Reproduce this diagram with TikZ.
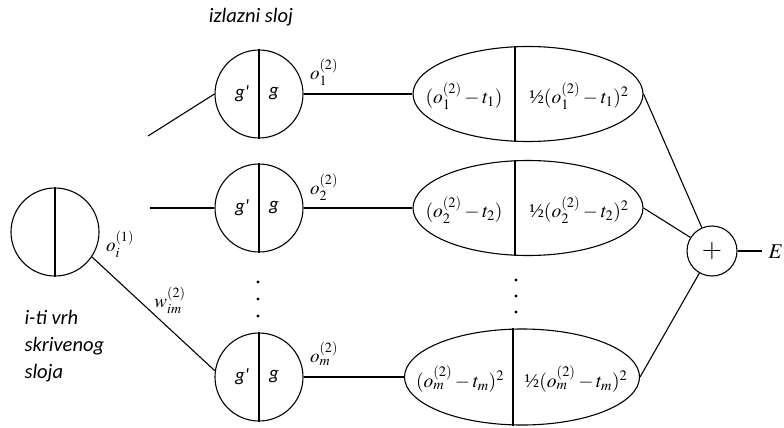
\documentclass[tikz,border=0pt]{standalone}
\usepackage{mathptmx}
\usepackage{fontspec}
\setmainfont{Liberation Serif}
\newfontfamily\carlito{Carlito}
\usetikzlibrary{shapes.geometric}
\begin{document}
\begin{tikzpicture}[x=1pt,y=-1pt,line width=1.1pt,
  neuron/.style={draw,circle,minimum size=88pt,inner sep=0pt},
  errbox/.style={draw,ellipse,minimum width=230pt,minimum height=95pt,inner sep=0pt},
  sumnode/.style={draw,circle,minimum size=50pt,inner sep=0pt,font=\fontsize{26}{28}\selectfont},
  glab/.style={font=\carlito\itshape\fontsize{19}{22}\selectfont,inner sep=0pt},
  desc/.style={font=\carlito\itshape\fontsize{20.5}{27}\selectfont,inner sep=0pt},
  mlab/.style={font=\fontsize{19}{22}\selectfont,inner sep=0pt},
  elab/.style={font=\fontsize{19.5}{22}\selectfont,inner sep=0pt},
  dotm/.style={fill=black}]
\useasboundingbox (0,0) rectangle (784,428);

% title
\node[desc] (title) at (251,17) {izlazni sloj};

% hidden neuron
\node[neuron] (h) at (55,232) {};
\draw (h.north) -- (h.south);
\node[mlab] (oi) at (120,244) {$o_i^{(1)}$};
\node[desc,align=left,anchor=north west] (hl) at (24,310) {i-ti vrh\\skrivenog\\sloja};

% output neurons
\node[neuron] (c1) at (259,94) {};
\node[neuron] (c2) at (259,208) {};
\node[neuron] (c3) at (259,377) {};
\foreach \n in {c1,c2,c3}{
  \draw (\n.north) -- (\n.south);
  \node[glab] (\n gp) at ([xshift=-17pt]\n.center) {g'};
  \node[glab] (\n g) at ([xshift=15pt]\n.center) {g};
}

% incoming connections
\coordinate (a1) at (148,136);
\coordinate (a2) at (150,208);
\draw (a1) -- (c1.west);
\draw (a2) -- (c2.west);
\draw (h.-34) -- (c3.172);
\node[mlab] (w) at (170,300) {$w_{im}^{(2)}$};

% output labels
\node[mlab] (o1) at (324,72) {$o_1^{(2)}$};
\node[mlab] (o2) at (324,187) {$o_2^{(2)}$};
\node[mlab] (o3) at (324,354) {$o_m^{(2)}$};

% error ellipses
\node[errbox] (e1) at (528,94) {};
\node[errbox] (e2) at (528,208) {};
\node[errbox,minimum width=235pt,minimum height=96pt] (e3) at (522,377) {};
\draw ([xshift=-13pt]e1.north) -- ([xshift=-13pt]e1.south);
\draw ([xshift=-13pt]e2.north) -- ([xshift=-13pt]e2.south);
\draw ([xshift=-9pt]e3.north) -- ([xshift=-9pt]e3.south);

\node[elab] (e1l) at (464,96) {$(o_1^{(2)}-t_1)$};
\node[elab] (e1r) at (579,96) {\textonehalf$(o_1^{(2)}-t_1)^2$};
\node[elab] (e2l) at (464,210) {$(o_2^{(2)}-t_2)$};
\node[elab] (e2r) at (579,210) {\textonehalf$(o_2^{(2)}-t_2)^2$};
\node[elab] (e3l) at (460,379) {$(o_m^{(2)}-t_m)^2$};
\node[elab] (e3r) at (576,379) {\textonehalf$(o_m^{(2)}-t_m)^2$};

\draw (c1.east) -- (e1.west);
\draw (c2.east) -- (e2.west);
\draw (c3.east) -- (e3.west);

% dots
\foreach \y in {282,299,316} \fill[dotm] (258,\y) circle (1.6pt);
\foreach \y in {280,296,312} \fill[dotm] (516,\y) circle (1.6pt);

% sum
\node[sumnode] (p) at (712,251) {$+$};
\draw (e1.east) -- (p);
\draw (e2.east) -- (p);
\draw (e3.east) -- (p);
\coordinate (pe) at (762,251);
\draw (p.east) -- (pe);
\node[mlab,anchor=west,font=\fontsize{21}{24}\selectfont] (E) at (768,252) {$E$};
\end{tikzpicture}
\end{document}
